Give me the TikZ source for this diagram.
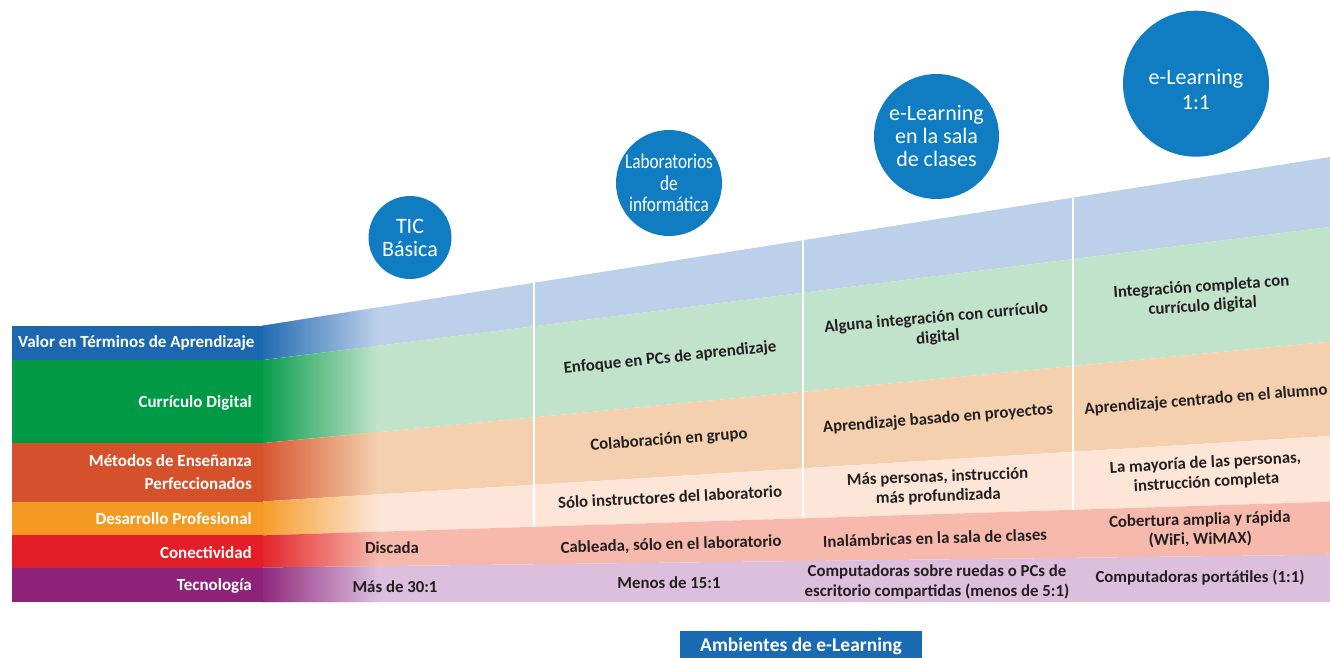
\documentclass[tikz,border=0pt]{standalone}
\usepackage{fontspec}
\setmainfont{Carlito}
\newfontfamily\condfont{Carlito}[FakeStretch=0.82]
\definecolor{dblue}{HTML}{1C68B0}\definecolor{lblue}{HTML}{BDD0EA}
\definecolor{dgreen}{HTML}{009A46}\definecolor{lgreen}{HTML}{C2E3CB}
\definecolor{dorange}{HTML}{D5512B}\definecolor{lorange}{HTML}{F4D0AE}
\definecolor{dyellow}{HTML}{F49A22}\definecolor{lyellow}{HTML}{FDE6D7}
\definecolor{dred}{HTML}{E31E26}\definecolor{lred}{HTML}{F7B9AB}
\definecolor{dpurple}{HTML}{8C2379}\definecolor{lpurple}{HTML}{DBBFDD}
\definecolor{cblue}{HTML}{107DC2}\definecolor{ablue}{HTML}{1A69B3}
\definecolor{txt}{HTML}{231F20}
\tikzset{
  lbl/.style={text=white, font=\bfseries\fontsize{17}{23}\selectfont, inner sep=0pt, anchor=east},
  cell/.style={text=txt, font=\bfseries\fontsize{16.8}{19.5}\selectfont, align=center, inner sep=0pt},
  circ/.style={circle, fill=cblue, text=white, align=center, inner sep=0pt},
  ctext/.style={text=white, align=center, inner sep=0pt},
  sep/.style={draw=white, line width=2pt}
}
\newcommand{\band}[6]{%
  \fill[#6] (#1) -- (#2) -- (#3) -- (#4) -- cycle;
  \begin{scope}
    \clip (#1) -- (#2) -- (#3) -- (#4) -- cycle;
    \shade[left color=#5, right color=#6] (258,140) rectangle (378,610);
  \end{scope}}
\begin{document}
\begin{tikzpicture}[x=1pt,y=-1pt]
\useasboundingbox (0,0) rectangle (1330,658);
\fill[white] (0,0) rectangle (1330,658);
% band boundaries
\coordinate (t0L) at (262,325.7); \coordinate (t0R) at (1330,157);
\coordinate (b1L) at (262,360.2); \coordinate (b1R) at (1330,227);
\coordinate (b2L) at (262,443.2); \coordinate (b2R) at (1330,341.6);
\coordinate (b3L) at (262,501.5); \coordinate (b3R) at (1330,436);
\coordinate (b4L) at (262,535.4); \coordinate (b4R) at (1330,501.7);
\coordinate (b5L) at (262,567.5); \coordinate (b5R) at (1330,554.7);
\coordinate (b6L) at (262,602);   \coordinate (b6R) at (1330,602);
% bands
\band{t0L}{t0R}{b1R}{b1L}{dblue}{lblue}
\band{b1L}{b1R}{b2R}{b2L}{dgreen}{lgreen}
\band{b2L}{b2R}{b3R}{b3L}{dorange}{lorange}
\band{b3L}{b3R}{b4R}{b4L}{dyellow}{lyellow}
\band{b4L}{b4R}{b5R}{b5L}{dred}{lred}
\band{b5L}{b5R}{b6R}{b6L}{dpurple}{lpurple}
% label boxes
\fill[dblue] (12,326) rectangle (263,360.2);
\fill[dgreen] (12,360.2) rectangle (263,443.2);
\fill[dorange] (12,443.2) rectangle (263,501.5);
\fill[dyellow] (12,501.5) rectangle (263,535.4);
\fill[dred] (12,535.4) rectangle (263,567.5);
\fill[dpurple] (12,567.5) rectangle (263,602);
% separators
\coordinate (s1t) at (533.5,282.8); \coordinate (s1b) at (533.5,526.9);
\coordinate (s2t) at (803,240.3);   \coordinate (s2b) at (803,518.4);
\coordinate (s3t) at (1072.5,197.7);\coordinate (s3b) at (1072.5,509.9);
\draw[sep] (s1t) -- (s1b);
\draw[sep] (s2t) -- (s2b);
\draw[sep] (s3t) -- (s3b);
% labels
\node[lbl, anchor=west] (lvalor) at (18,343) {Valor en Términos de Aprendizaje};
\node[lbl] (lcurr) at (252,402.7) {Currículo Digital};
\node[lbl, align=right] (lmet) at (252,472.5) {Métodos de Enseñanza\\Perfeccionados};
\node[lbl] (ldes) at (252,519) {Desarrollo Profesional};
\node[lbl] (lcon) at (252,553) {Conectividad};
\node[lbl] (ltec) at (252,586) {Tecnología};
% cells: Currículo
\node[cell, rotate=6] (c12) at (670,358) {Enfoque en PCs de aprendizaje};
\node[cell, rotate=5] (c13) at (937,328) {Alguna integración con currículo\\digital};
\node[cell, rotate=4] (c14) at (1202,297) {Integración completa con\\currículo digital};
% Métodos
\node[cell, rotate=4.3] (c22) at (669,440) {Colaboración en grupo};
\node[cell, rotate=4.6] (c23) at (938,419) {Aprendizaje basado en proyectos};
\node[cell, rotate=4.6] (c24) at (1206,400) {Aprendizaje centrado en el alumno};
% Desarrollo
\node[cell, rotate=3] (c32) at (670,497) {Sólo instructores del laboratorio};
\node[cell, rotate=2.2] (c33) at (938,487) {Más personas, instrucción\\más profundizada};
\node[cell, rotate=3.2] (c34) at (1206,473) {La mayoría de las personas,\\instrucción completa};
% Conectividad
\node[cell] (c41) at (392,548) {Discada};
\node[cell, rotate=1.7] (c42) at (671,545) {Cableada, sólo en el laboratorio};
\node[cell, rotate=1.7] (c43) at (935,538) {Inalámbricas en la sala de clases};
\node[cell, rotate=1.6] (c44) at (1200,530) {Cobertura amplia y rápida\\(WiFi, WiMAX)};
% Tecnología
\node[cell] (c51) at (395,586.5) {Más de 30:1};
\node[cell] (c52) at (669,583) {Menos de 15:1};
\node[cell] (c53) at (937,582) {Computadoras sobre ruedas o PCs de\\escritorio compartidas (menos de 5:1)};
\node[cell] (c54) at (1200,578) {Computadoras portátiles (1:1)};
% circles
\node[circ, minimum size=83pt, font=\fontsize{22}{23}\selectfont] (tic) at (410,237.5) {TIC\\Básica};
\node[circ, minimum size=106pt, font=\condfont\fontsize{21}{21.5}\selectfont] (lab) at (669,183) {Laboratorios\\de\\informática};
\node[circ, minimum size=125pt, font=\fontsize{22}{23}\selectfont] (sala) at (936.5,136.5) {e-Learning\\en la sala\\de clases};
\node[circ, minimum size=146pt] (uno) at (1196,83.7) {};
\node[ctext, font=\fontsize{22}{25}\selectfont] (unotxt) at (1196,89.5) {e-Learning\\1:1};
% bottom title
\fill[ablue] (680,631) rectangle (922,658);
\node[text=white, font=\bfseries\fontsize{19.5}{21}\selectfont, inner sep=0pt] (amb) at (801,646) {Ambientes de e-Learning};
\end{tikzpicture}
\end{document}
